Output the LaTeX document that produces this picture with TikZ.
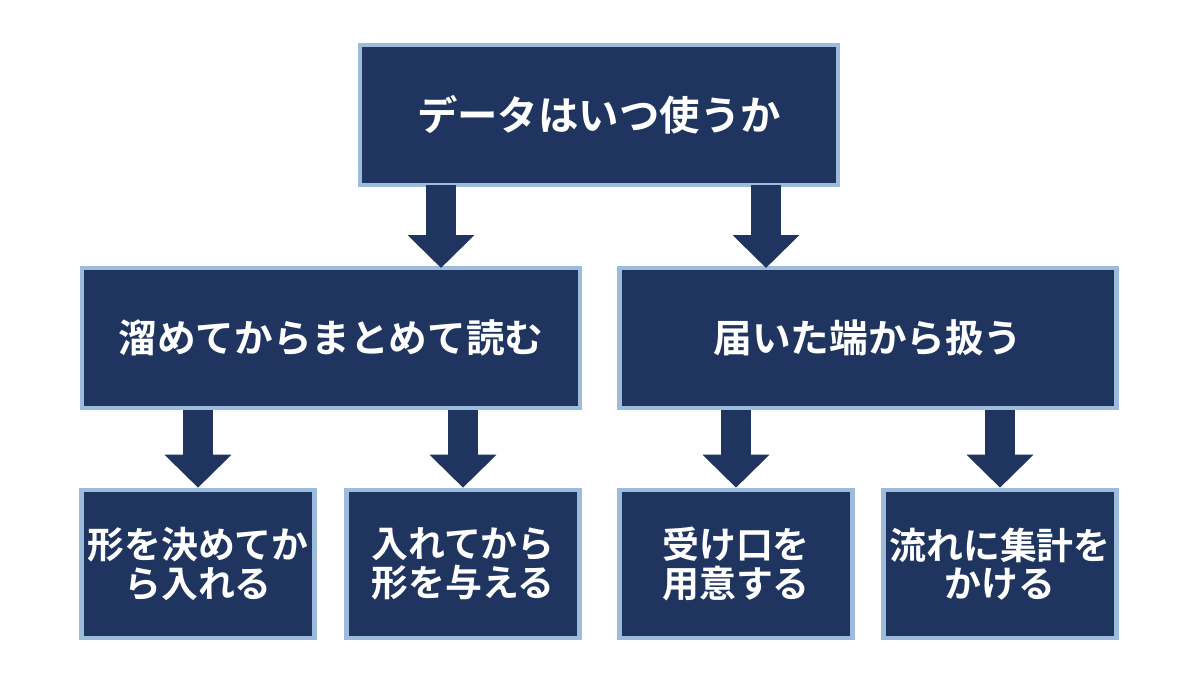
\documentclass[tikz,border=0pt]{standalone}
\usepackage{fontspec}
\setmainfont{Noto Sans CJK JP}[BoldFont={Noto Sans CJK JP Bold}]
\usetikzlibrary{arrows.meta}
\definecolor{navy}{HTML}{1F3560}
\definecolor{edge}{HTML}{9DBCDC}
\tikzset{
  box/.style={draw=edge, fill=navy, line width=2.6pt, text=white, font=\bfseries,
    align=center, inner sep=0pt},
  down/.style={draw=navy, line width=0.6cm, -{Triangle[width=1.3cm, length=0.66cm]}}
}
\begin{document}
\begin{tikzpicture}[x=0.02cm, y=-0.02cm]
  \useasboundingbox (0,0) rectangle (1200,675);

  \node[box, minimum width=478*0.02cm, minimum height=140*0.02cm, font=\fontsize{23}{27}\bfseries] (top) at (599,115) {データはいつ使うか};

  \node[box, minimum width=498*0.02cm, minimum height=140*0.02cm, font=\fontsize{22}{26}\bfseries] (batch) at (331,338) {溜めてからまとめて読む};
  \node[box, minimum width=497*0.02cm, minimum height=140*0.02cm, font=\fontsize{22}{26}\bfseries] (stream) at (868,338) {届いた端から扱う};

  \foreach \n/\x/\t in {schema/198/{形を決めてか\\ら入れる}, lake/463/{入れてから\\形を与える},
                         port/736/{受け口を\\用意する}, agg/1000/{流れに集計を\\かける}}
    \node[box, minimum width=233*0.02cm, minimum height=148*0.02cm, font=\fontsize{21}{22}\bfseries] (\n) at (\x,564) {\t};

  % arrows
  \coordinate (a1) at (441,185); \coordinate (b1) at (441,268);
  \coordinate (a2) at (766,185); \coordinate (b2) at (766,268);
  \draw[down] (a1) -- (b1);
  \draw[down] (a2) -- (b2);
  \draw[down] (batch.south -| schema) -- (schema.north);
  \draw[down] (batch.south -| lake) -- (lake.north);
  \draw[down] (stream.south -| port) -- (port.north);
  \draw[down] (stream.south -| agg) -- (agg.north);
\end{tikzpicture}
\end{document}
